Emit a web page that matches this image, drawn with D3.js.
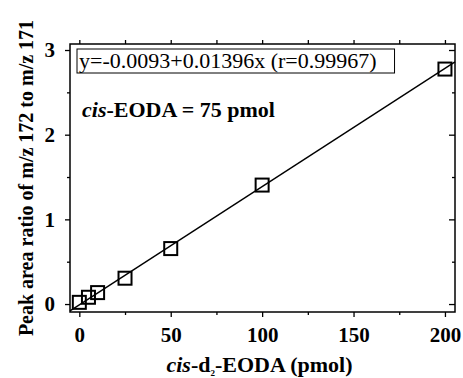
<!DOCTYPE html>
<html>
<head>
<meta charset="utf-8">
<title>cis-EODA calibration</title>
<script src="https://d3js.org/d3.v7.min.js"></script>
<style>
  body { margin: 0; background: #fff; }
  text { font-family: "Liberation Serif", "Times New Roman", serif; }
</style>
</head>
<body>
<div id="chart"></div>
<script>
// amount of cis-d2-EODA (pmol) and measured peak area ratio
let amounts = [0, 5, 10, 25, 50, 100, 200];
let ratios = [0.02, 0.08, 0.135, 0.305, 0.655, 1.405, 2.775];
let fitIntercept = -0.0093;
let fitSlope = 0.01396;
let fitLabel = "y=-0.0093+0.01396x (r=0.99967)";
let xTicks = [0, 50, 100, 150, 200];
let xMinor = [25, 75, 125, 175];
let yTicks = [0, 1, 2, 3];
let yMinor = [0.5, 1.5, 2.5];

let margin = {top: 44, right: 8, bottom: 66, left: 70};
let w = 463 - margin.left - margin.right;
let h = 378 - margin.top - margin.bottom;

let svg = d3.select("#chart").append("svg")
    .attr("width", 463).attr("height", 378)
  .append("g")
    .attr("transform", "translate(" + margin.left + "," + margin.top + ")");

let x = d3.scaleLinear().domain([-5.1, 205.5]).range([0, w]);
let y = d3.scaleLinear().domain([-0.094, 3.071]).range([h, 0]);

// axes: labelled ticks outside on left/bottom, plain ticks on top/right
function styleAxis(g) {
    g.select(".domain").remove();
    g.selectAll("line").attr("stroke", "#000").attr("stroke-width", 1.3);
    g.selectAll("text").attr("font-size", "21px").attr("font-weight", "bold")
        .attr("fill", "#000").style("font-family", "Liberation Serif, serif");
}

svg.append("g").attr("transform", "translate(0," + h + ")")
    .call(d3.axisBottom(x).tickValues(xTicks).tickSize(5).tickPadding(10).tickFormat(d3.format("d")))
    .call(styleAxis);
svg.append("g").attr("transform", "translate(0," + h + ")")
    .call(d3.axisBottom(x).tickValues(xMinor).tickSize(3).tickFormat(""))
    .call(styleAxis);
svg.append("g")
    .call(d3.axisTop(x).tickValues(xTicks.concat(xMinor)).tickSize(4).tickFormat(""))
    .call(styleAxis);

svg.append("g")
    .call(d3.axisLeft(y).tickValues(yTicks).tickSize(5).tickPadding(10).tickFormat(d3.format("d")))
    .call(styleAxis);
svg.append("g")
    .call(d3.axisLeft(y).tickValues(yMinor).tickSize(3).tickFormat(""))
    .call(styleAxis);
svg.append("g").attr("transform", "translate(" + w + ",0)")
    .call(d3.axisLeft(y).tickValues(yTicks).tickSize(6).tickFormat(""))
    .call(styleAxis);
svg.append("g").attr("transform", "translate(" + w + ",0)")
    .call(d3.axisLeft(y).tickValues(yMinor).tickSize(3).tickFormat(""))
    .call(styleAxis);

// frame
svg.append("rect")
    .attr("width", w).attr("height", h)
    .attr("fill", "none").attr("stroke", "#000").attr("stroke-width", 1.5);

// fitted line across the whole frame
let xd = x.domain();
svg.append("line")
    .attr("x1", x(xd[0])).attr("y1", y(fitIntercept + fitSlope * xd[0]))
    .attr("x2", x(xd[1])).attr("y2", y(fitIntercept + fitSlope * xd[1]))
    .attr("stroke", "#000").attr("stroke-width", 1.4);

// square markers
let s = 13;
svg.selectAll("rect.pt")
    .data(amounts)
    .enter()
    .append("rect")
    .attr("class", "pt")
    .attr("x", function(d){ return x(d) - s / 2; })
    .attr("y", function(d, i){ return y(ratios[i]) - s / 2; })
    .attr("width", s).attr("height", s)
    .attr("fill", "none").attr("stroke", "#000").attr("stroke-width", 2);

// equation box
let box = svg.append("rect")
    .attr("x", 7).attr("y", 5).attr("height", 24)
    .attr("fill", "#fff").attr("stroke", "#000").attr("stroke-width", 1);
let eq = svg.append("text")
    .attr("x", 9).attr("y", 24)
    .attr("font-size", "22px")
    .text(fitLabel);
box.attr("width", eq.node().getBBox().width + 20);

let note = svg.append("text")
    .attr("x", 12).attr("y", 73)
    .attr("font-size", "22px").attr("font-weight", "bold");
note.append("tspan").attr("font-style", "italic").text("cis");
note.append("tspan").text("-EODA = 75 pmol");

// axis titles
let xt = svg.append("text")
    .attr("x", w / 2 - 3).attr("y", h + 60)
    .attr("text-anchor", "middle")
    .attr("font-size", "22px").attr("font-weight", "bold");
xt.append("tspan").attr("font-style", "italic").text("cis");
xt.append("tspan").text("-d");
xt.append("tspan").attr("font-size", "9px").attr("dy", 4).text("2");
xt.append("tspan").attr("dy", -4).text("-EODA (pmol)");

svg.append("text")
    .attr("transform", "rotate(-90)")
    .attr("x", -(178 - margin.top)).attr("y", 33 - margin.left)
    .attr("text-anchor", "middle")
    .attr("font-size", "20px").attr("font-weight", "bold")
    .text("Peak area ratio of m/z 172 to m/z 171");
</script>
</body>
</html>
